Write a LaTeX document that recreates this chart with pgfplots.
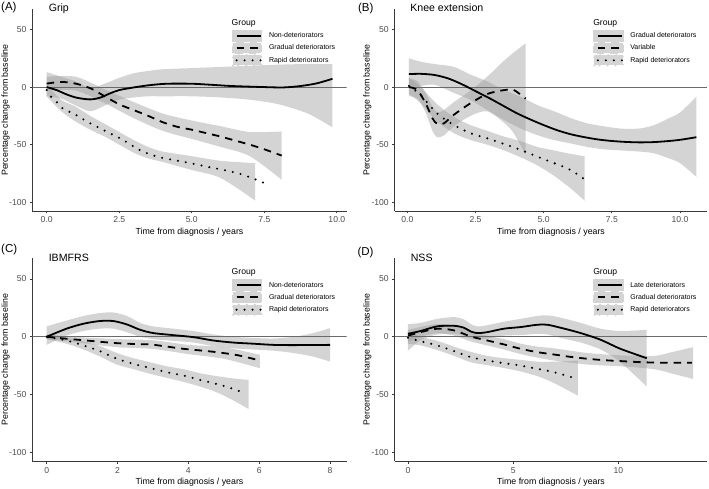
\documentclass[border=0pt]{standalone}
\usepackage{pgfplots}
\pgfplotsset{compat=1.18}
\usepackage{pgfplotstable}
\usepgfplotslibrary{fillbetween}
\usepackage{fontspec}
\setmainfont{Liberation Sans}
\definecolor{axisgray}{HTML}{3A3A3A}
\definecolor{tickgray}{HTML}{4D4D4D}
\definecolor{zerogray}{HTML}{6A6A6A}
\definecolor{keygray}{HTML}{D4D4D4}
\definecolor{bandbase}{HTML}{999999}

% ---------- Panel A: Grip ----------
\pgfplotstableread{
x y
0 0
0.34 -2.6
0.69 -6.4
1.03 -9.2
1.49 -10.7
1.84 -9.2
2.18 -5.5
2.5 -2.6
3.0 -0.3
3.56 1.7
4.14 2.9
5.0 2.9
5.86 1.7
6.4 0.9
7.5 0
8.16 -0.3
8.74 0.9
9.3 3.2
9.85 7.2
}\lineAa
\pgfplotstableread{
x lo hi
0 -8 13
0.5 -10 9
1.0 -16 5
1.5 -21 -1
2.0 -16 3
2.5 -11 8
3.0 -9 12
3.5 -8 14
4.0 -8 15.5
5.0 -8 16.5
6.0 -9 17.5
7.0 -11 18.5
8.0 -15 19.5
9.0 -23 20
9.85 -35 20
}\bandAa
\pgfplotstableread{
x y
0 3
0.5 4.5
1.0 3
1.5 -1
2.0 -8
2.5 -15
3.0 -20
3.5 -25
4.0 -30.5
4.5 -34.5
5.0 -37
5.5 -40
6.0 -43
6.5 -46.5
7.0 -50
7.5 -54
8.1 -59.5
}\lineAb
\pgfplotstableread{
x lo hi
0 -3 9
1.0 -3 9
2.0 -14 -2
3.0 -27 -13
4.0 -38 -23
5.0 -45 -29
6.0 -52 -34
7.0 -60 -39
8.1 -80.5 -38.5
}\bandAb
\pgfplotstableread{
x y
0 -2.6
0.17 -9
0.37 -13.6
0.57 -19
0.92 -23
1.5 -31.5
2.07 -38.7
2.64 -46
3.2 -54.6
3.8 -60.4
4.37 -63.3
4.94 -66
5.5 -69
6.1 -72
6.67 -75.4
7.24 -80.6
7.6 -84.4
}\lineAc
\pgfplotstableread{
x lo hi
0 -8 2
0.5 -21 -11
1.0 -30 -17
1.5 -37 -25
2.0 -43 -32
2.5 -50 -39
3.0 -57 -46
3.5 -62 -52
4.0 -65 -56
5.0 -72 -60
6.0 -79 -64
7.18 -98.5 -66
}\bandAc

% ---------- Panel B: Knee extension ----------
\pgfplotstableread{
x y
0.06 11.3
0.5 11.5
1.0 10.5
1.5 7.5
2.0 2.5
2.5 -3.5
3.0 -9.5
3.5 -16
4.0 -22.5
4.5 -28
5.0 -33
5.5 -37.5
6.0 -41
6.5 -43.5
7.0 -45.5
7.5 -46.8
8.0 -47.6
8.5 -48
9.0 -47.8
9.5 -47
10.0 -45.8
10.6 -43.5
}\lineBa
\pgfplotstableread{
x lo hi
0.06 -1 25
0.5 1 22
1.0 2 20
1.7 -5 17.6
2.3 -11 11
2.93 -20 5
3.5 -28 -2
4.16 -36 -8.4
4.8 -42 -16
5.38 -46 -21
6.0 -49 -27
6.6 -52 -31.5
7.2 -54 -34
7.82 -55 -36
8.5 -56 -36
9.05 -57.5 -33
9.6 -62 -27
10.0 -66 -22
10.6 -78 -8.4
}\bandBa
\pgfplotstableread{
x y
0.06 0
0.37 -2.6
0.67 -14
0.92 -27
1.1 -32
1.34 -31.5
1.71 -24
2.32 -14
2.93 -6
3.55 -2.6
3.9 -2.5
4.34 -10
}\lineBb
\pgfplotstableread{
x lo hi
0.06 -8 8
0.37 -10 5
0.67 -22 -5
0.92 -38 -17
1.1 -43.6 -22
1.34 -42 -20
1.71 -34 -13
2.32 -25 -3
2.93 -21 9
3.55 -31 23
3.9 -40 30
4.34 -59 38
}\bandBb
\pgfplotstableread{
x y
0.06 1
0.49 -7
1.1 -23
1.71 -33
2.32 -40
2.93 -44.5
3.55 -49.4
4.16 -54.6
4.77 -60.4
5.38 -66
5.99 -72
6.48 -79.8
}\lineBc
\pgfplotstableread{
x lo hi
0.06 -6 8
0.49 -14 0
1.1 -30 -15
1.71 -40 -26
2.32 -46 -33
2.93 -50 -38
3.55 -55 -43
4.16 -61 -47
4.77 -68 -52
5.38 -77 -55
5.99 -88 -58
6.5 -98.6 -60
}\bandBc

% ---------- Panel C: IBMFRS ----------
\pgfplotstableread{
x y
0 0
0.56 7
1.04 11.3
1.5 13.6
1.88 13.6
2.26 10.7
2.64 6
3.01 3.2
3.58 1.4
4.14 -0.3
4.7 -3.2
5.27 -5
5.84 -6
6.4 -7
6.96 -7.2
8 -7
}\lineCa
\pgfplotstableread{
x lo hi
0 -7 9
0.56 1 14
1.04 5 18
1.5 7 20.5
1.88 7 21
2.26 4 18
2.64 0 12
3.01 -2 9
3.58 -3.5 7
4.14 -5 5
4.7 -8 2
5.27 -10 0
5.84 -11 -1
6.4 -12 -1.5
6.96 -14 0
7.5 -17 3
8 -21.4 7.5
}\bandCa
\pgfplotstableread{
x y
0 0
0.5 -1.5
1.04 -3
1.5 -4.3
1.98 -5.5
2.5 -6.3
2.92 -6.6
3.4 -8.5
3.86 -10.4
4.33 -11.8
4.8 -13.3
5.4 -16
6.02 -20.5
}\lineCb
\pgfplotstableread{
x lo hi
0 -2 2
1 -5.5 -0.5
2 -9 -2
3 -10.5 -3
4 -15 -7
5 -19 -9
6.02 -27.2 -15.6
}\bandCb
\pgfplotstableread{
x y
0 0
0.56 -3.2
1.04 -7.5
1.5 -12.4
1.98 -19
2.45 -23.4
2.92 -27
3.39 -30.6
3.86 -33.5
4.33 -37.3
4.8 -40.8
5.27 -45
5.63 -49.4
}\lineCc
\pgfplotstableread{
x lo hi
0 -2 2
0.56 -6 -0.5
1.04 -11 -4
1.5 -17 -8
1.98 -24 -14
2.45 -28 -18.5
2.92 -32 -22
3.39 -35.5 -25.5
3.86 -39 -28
4.33 -43 -31.5
4.8 -48 -34
5.27 -55 -36
5.7 -62.4 -37.3
}\bandCc

% ---------- Panel D: NSS ----------
\pgfplotstableread{
x y
0 2.6
0.6 5
1.39 9
2.19 9.5
2.66 7.8
2.98 4.6
3.3 3.2
3.77 4
4.56 7
5.36 8.4
6.15 10.4
6.62 10.4
7.26 7.8
8.21 3.2
9.16 -2.6
10.1 -10.4
11.35 -18.5
}\lineDa
\pgfplotstableread{
x lo hi
0 -12 11
0.6 -3 12
1.39 2 15.5
2.19 2.5 17
2.66 1 15
2.98 -1.5 11
3.3 -2.5 9
3.77 -1.5 10
4.56 1 13
5.36 1.5 15.5
6.15 2.5 18
6.62 2 18.5
7.26 -1 16.5
8.21 -5 12
9.16 -11 7
10.1 -22 5
11.35 -43 6
}\bandDa
\pgfplotstableread{
x y
0 1
0.6 4
1.39 7
2.19 5.5
2.98 0.3
3.77 -3.2
4.56 -6.6
5.36 -10.4
6.15 -13.3
6.94 -15.3
7.7 -17.3
8.53 -19
9.3 -20.2
10.1 -21
10.9 -21.8
11.7 -22.3
12.5 -22.5
13.5 -22.5
}\lineDb
\pgfplotstableread{
x lo hi
0 -4 6
0.6 0 8.5
1.39 3 11
2.19 1 10
2.98 -4 4.5
3.77 -7.5 1
4.56 -11 -2
5.36 -15 -6
6.15 -18 -8.5
6.94 -20.5 -10
8.53 -24 -14
10.1 -25.5 -16
11.7 -28 -16.5
12.6 -32 -13
13.55 -36.4 -9
}\bandDb
\pgfplotstableread{
x y
0 -0.9
0.6 -3.8
1.39 -7.5
2.19 -12.4
2.98 -17.6
3.77 -20.5
4.56 -22.8
5.36 -24.9
6.15 -27.7
6.94 -30.6
7.89 -35.5
}\lineDc
\pgfplotstableread{
x lo hi
0 -6 4
0.6 -7.5 0
1.39 -11.5 -3.5
2.19 -16.5 -8.5
2.98 -22 -13
3.77 -24.5 -16.5
4.56 -27 -18.5
5.36 -30 -20
6.15 -34 -21.5
6.94 -40 -21.5
8.08 -50.9 -20.5
}\bandDc

\pgfplotsset{
  solidln/.style={black, line width=1.8pt, smooth},
  dashln/.style={black, line width=1.8pt, dash pattern=on 7.5pt off 6pt, smooth},
  dotln/.style={black, line width=2.3pt, line cap=round, dash pattern=on 0pt off 8pt, smooth},
  bandfill/.style={fill=bandbase, fill opacity=0.42, draw=none, forget plot},
  panel/.style={
    scale only axis,
    axis x line*=bottom, axis y line*=left,
    axis line style={-, draw=axisgray, line width=0.8pt},
    major tick style={draw=axisgray, line width=0.8pt},
    tick align=outside, major tick length=2.4pt,
    ymin=-107.6, ymax=67.8,
    ytick={-100,-50,0,50}, yticklabels={-100,-50,0,50},
    ticklabel style={font=\fontsize{8.6}{10}\selectfont, text=tickgray},
    legend style={at={(0.635,0.897)}, anchor=north west,
      draw=none, fill=none, inner sep=0pt, outer sep=0pt,
      row sep=0pt, column sep=6pt,
      nodes={inner sep=0.5pt, font=\fontsize{7}{8}\selectfont, text=black}},
    legend cell align=left,
    legend image code/.code={
      \fill[keygray] (-3.5pt,-5.15pt) rectangle (24.8pt,5.15pt);
      \draw[##1] (0pt,0pt) -- (24.3pt,0pt);
    },
  },
}

\begin{document}
\begin{tikzpicture}
\path (0,0) rectangle (709pt,-488pt);

% ===== A =====
\begin{axis}[panel, at={(32.3pt,-211pt)}, anchor=south west,
  width=314.4pt, height=202pt, xmin=-0.497, xmax=10.34,
  xtick={0,2.5,5,7.5,10}, xticklabels={0.0,2.5,5.0,7.5,10.0}]
\addplot[zerogray, line width=0.9pt, forget plot] coordinates {(-0.497,0) (10.34,0)};
\addplot[name path=Aau, draw=none, smooth, forget plot] table[x=x,y=hi]{\bandAa};
\addplot[name path=Aal, draw=none, smooth, forget plot] table[x=x,y=lo]{\bandAa};
\addplot[bandfill] fill between[of=Aau and Aal];
\addplot[name path=Abu, draw=none, smooth, forget plot] table[x=x,y=hi]{\bandAb};
\addplot[name path=Abl, draw=none, smooth, forget plot] table[x=x,y=lo]{\bandAb};
\addplot[bandfill] fill between[of=Abu and Abl];
\addplot[name path=Acu, draw=none, smooth, forget plot] table[x=x,y=hi]{\bandAc};
\addplot[name path=Acl, draw=none, smooth, forget plot] table[x=x,y=lo]{\bandAc};
\addplot[bandfill] fill between[of=Acu and Acl];
\addplot[solidln] table[x=x,y=y]{\lineAa};
\addlegendentry{Non-deteriorators}
\addplot[dashln] table[x=x,y=y]{\lineAb};
\addlegendentry{Gradual deteriorators}
\addplot[dotln] table[x=x,y=y]{\lineAc};
\addlegendentry{Rapid deteriorators}
\end{axis}

% ===== B =====
\begin{axis}[panel, at={(394.7pt,-211pt)}, anchor=south west,
  width=312.6pt, height=202pt, xmin=-0.462, xmax=11.0,
  xtick={0,2.5,5,7.5,10}, xticklabels={0.0,2.5,5.0,7.5,10.0}]
\addplot[zerogray, line width=0.9pt, forget plot] coordinates {(-0.462,0) (11.0,0)};
\addplot[name path=Bau, draw=none, smooth, forget plot] table[x=x,y=hi]{\bandBa};
\addplot[name path=Bal, draw=none, smooth, forget plot] table[x=x,y=lo]{\bandBa};
\addplot[bandfill] fill between[of=Bau and Bal];
\addplot[name path=Bbu, draw=none, smooth, forget plot] table[x=x,y=hi]{\bandBb};
\addplot[name path=Bbl, draw=none, smooth, forget plot] table[x=x,y=lo]{\bandBb};
\addplot[bandfill] fill between[of=Bbu and Bbl];
\addplot[name path=Bcu, draw=none, smooth, forget plot] table[x=x,y=hi]{\bandBc};
\addplot[name path=Bcl, draw=none, smooth, forget plot] table[x=x,y=lo]{\bandBc};
\addplot[bandfill] fill between[of=Bcu and Bcl];
\addplot[solidln] table[x=x,y=y]{\lineBa};
\addlegendentry{Gradual deteriorators}
\addplot[dashln] table[x=x,y=y]{\lineBb};
\addlegendentry{Variable}
\addplot[dotln] table[x=x,y=y]{\lineBc};
\addlegendentry{Rapid deteriorators}
\end{axis}

% ===== C =====
\begin{axis}[panel, at={(32.3pt,-461.3pt)}, anchor=south west,
  width=314.4pt, height=203pt, xmin=-0.407, xmax=8.47,
  xtick={0,2,4,6,8}, xticklabels={0,2,4,6,8}]
\addplot[zerogray, line width=0.9pt, forget plot] coordinates {(-0.407,0) (8.47,0)};
\addplot[name path=Cau, draw=none, smooth, forget plot] table[x=x,y=hi]{\bandCa};
\addplot[name path=Cal, draw=none, smooth, forget plot] table[x=x,y=lo]{\bandCa};
\addplot[bandfill] fill between[of=Cau and Cal];
\addplot[name path=Cbu, draw=none, smooth, forget plot] table[x=x,y=hi]{\bandCb};
\addplot[name path=Cbl, draw=none, smooth, forget plot] table[x=x,y=lo]{\bandCb};
\addplot[bandfill] fill between[of=Cbu and Cbl];
\addplot[name path=Ccu, draw=none, smooth, forget plot] table[x=x,y=hi]{\bandCc};
\addplot[name path=Ccl, draw=none, smooth, forget plot] table[x=x,y=lo]{\bandCc};
\addplot[bandfill] fill between[of=Ccu and Ccl];
\addplot[solidln] table[x=x,y=y]{\lineCa};
\addlegendentry{Non-deteriorators}
\addplot[dashln] table[x=x,y=y]{\lineCb};
\addlegendentry{Gradual deteriorators}
\addplot[dotln] table[x=x,y=y]{\lineCc};
\addlegendentry{Rapid deteriorators}
\end{axis}

% ===== D =====
\begin{axis}[panel, at={(394.7pt,-461.3pt)}, anchor=south west,
  width=312.6pt, height=203pt, xmin=-0.632, xmax=14.23,
  xtick={0,5,10}, xticklabels={0,5,10}]
\addplot[zerogray, line width=0.9pt, forget plot] coordinates {(-0.632,0) (14.23,0)};
\addplot[name path=Dau, draw=none, smooth, forget plot] table[x=x,y=hi]{\bandDa};
\addplot[name path=Dal, draw=none, smooth, forget plot] table[x=x,y=lo]{\bandDa};
\addplot[bandfill] fill between[of=Dau and Dal];
\addplot[name path=Dbu, draw=none, smooth, forget plot] table[x=x,y=hi]{\bandDb};
\addplot[name path=Dbl, draw=none, smooth, forget plot] table[x=x,y=lo]{\bandDb};
\addplot[bandfill] fill between[of=Dbu and Dbl];
\addplot[name path=Dcu, draw=none, smooth, forget plot] table[x=x,y=hi]{\bandDc};
\addplot[name path=Dcl, draw=none, smooth, forget plot] table[x=x,y=lo]{\bandDc};
\addplot[bandfill] fill between[of=Dcu and Dcl];
\addplot[solidln] table[x=x,y=y]{\lineDa};
\addlegendentry{Late deteriorators}
\addplot[dashln] table[x=x,y=y]{\lineDb};
\addlegendentry{Gradual deteriorators}
\addplot[dotln] table[x=x,y=y]{\lineDc};
\addlegendentry{Rapid deteriorators}
\end{axis}

% ===== text: tags, titles, legend titles, axis titles =====
\tikzset{lbl/.style={inner sep=0pt, outer sep=0pt}}
\node[lbl, anchor=base west, font=\fontsize{11.5}{12}\selectfont] at (1.2pt,-10.3pt) {(A)};
\node[lbl, anchor=base west, font=\fontsize{11.5}{12}\selectfont] at (358pt,-11.3pt) {(B)};
\node[lbl, anchor=base west, font=\fontsize{11.5}{12}\selectfont] at (1.2pt,-252.6pt) {(C)};
\node[lbl, anchor=base west, font=\fontsize{11.5}{12}\selectfont] at (357.5pt,-255.6pt) {(D)};

\node[lbl, anchor=base west, font=\fontsize{10.6}{12}\selectfont] at (48.8pt,-11.7pt) {Grip};
\node[lbl, anchor=base west, font=\fontsize{10.6}{12}\selectfont] at (410.3pt,-11.2pt) {Knee extension};
\node[lbl, anchor=base west, font=\fontsize{10.6}{12}\selectfont] at (48.8pt,-261pt) {IBMFRS};
\node[lbl, anchor=base west, font=\fontsize{10.6}{12}\selectfont] at (410.8pt,-261.3pt) {NSS};

\node[lbl, anchor=base west, font=\fontsize{8.6}{10}\selectfont] at (231.7pt,-25.3pt) {Group};
\node[lbl, anchor=base west, font=\fontsize{8.6}{10}\selectfont] at (593.3pt,-25.3pt) {Group};
\node[lbl, anchor=base west, font=\fontsize{8.6}{10}\selectfont] at (231.7pt,-274.8pt) {Group};
\node[lbl, anchor=base west, font=\fontsize{8.6}{10}\selectfont] at (593.3pt,-274.8pt) {Group};

\node[lbl, anchor=base, font=\fontsize{8.8}{10}\selectfont] at (189.5pt,-234.3pt) {Time from diagnosis / years};
\node[lbl, anchor=base, font=\fontsize{8.8}{10}\selectfont] at (551pt,-234.3pt) {Time from diagnosis / years};
\node[lbl, anchor=base, font=\fontsize{8.8}{10}\selectfont] at (189.5pt,-484.3pt) {Time from diagnosis / years};
\node[lbl, anchor=base, font=\fontsize{8.8}{10}\selectfont] at (551pt,-484.3pt) {Time from diagnosis / years};

\node[lbl, anchor=base, rotate=90, font=\fontsize{8.8}{10}\selectfont] at (8pt,-110pt) {Percentage change from baseline};
\node[lbl, anchor=base, rotate=90, font=\fontsize{8.8}{10}\selectfont] at (369.6pt,-110pt) {Percentage change from baseline};
\node[lbl, anchor=base, rotate=90, font=\fontsize{8.8}{10}\selectfont] at (8pt,-359.8pt) {Percentage change from baseline};
\node[lbl, anchor=base, rotate=90, font=\fontsize{8.8}{10}\selectfont] at (369.6pt,-359.8pt) {Percentage change from baseline};
\end{tikzpicture}
\end{document}
